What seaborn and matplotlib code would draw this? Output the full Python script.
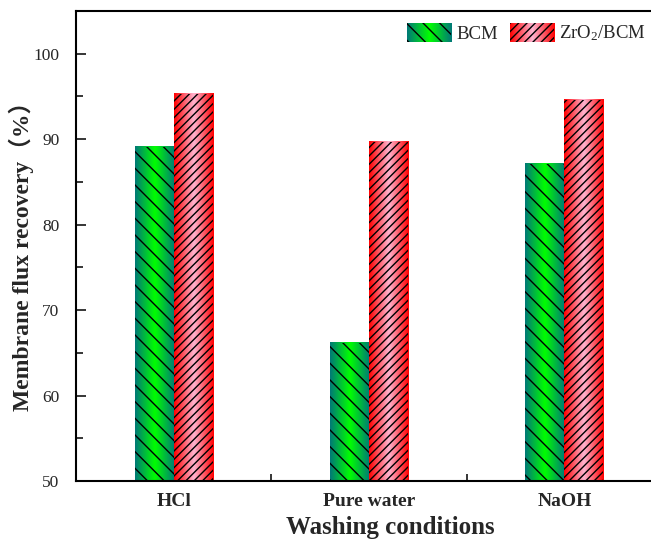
import numpy as np
import pandas as pd
import matplotlib
matplotlib.use("Agg")
import matplotlib.pyplot as plt
import seaborn as sns
from matplotlib.colors import LinearSegmentedColormap
from matplotlib.legend_handler import HandlerBase
from matplotlib.image import BboxImage
from matplotlib.transforms import Bbox, TransformedBbox
from matplotlib.patches import Rectangle

conditions = ["HCl", "Pure water", "NaOH"]
series = ["BCM", "ZrO$_2$/BCM"]
bcm_values = [89.1, 66.2, 87.1]
zro2_values = [95.3, 89.7, 94.6]
y_ticks = [50, 60, 70, 80, 90, 100]

df = pd.DataFrame({
    "condition": conditions * 2,
    "series": [series[0]] * 3 + [series[1]] * 3,
    "value": bcm_values + zro2_values,
})

sns.set_theme(style="ticks")
plt.rcParams["font.family"] = ["Liberation Serif", "Noto Sans CJK SC"]
plt.rcParams["mathtext.fontset"] = "custom"
plt.rcParams["mathtext.rm"] = "Liberation Serif"
plt.rcParams["mathtext.it"] = "Liberation Serif:italic"
plt.rcParams["mathtext.bf"] = "Liberation Serif:bold"
plt.rcParams["hatch.linewidth"] = 1.0
plt.rcParams["hatch.color"] = "black"

BCM_HATCH = "\\\\"
ZR_HATCH = "////"

fig = plt.figure(figsize=(6.51, 5.44), dpi=100)
ax = fig.add_axes([76 / 651, 63 / 544, 586 / 651, 470 / 544])

sns.barplot(data=df, x="condition", y="value", hue="series", order=conditions,
            hue_order=series, width=0.4, ax=ax, legend=False,
            palette=["#00c040", "#ff80a0"])

green_cmap = LinearSegmentedColormap.from_list("g", ["#007878", "#00ff00", "#007878"])
red_cmap = LinearSegmentedColormap.from_list("r", ["#ff0000", "#ffb4d0", "#ff0000"])
grad = np.linspace(0, 1, 256).reshape(1, -1)

patches = [p for p in ax.patches if p.get_height() > 0]
for p in patches:
    x0, w = p.get_x(), p.get_width()
    h = p.get_height()
    y0 = p.get_y()
    center = x0 + w / 2
    is_bcm = center < round(center)
    cmap = green_cmap if is_bcm else red_cmap
    ax.imshow(grad, cmap=cmap, extent=[x0, x0 + w, y0, y0 + h], aspect="auto",
              interpolation="bicubic", zorder=1.5)
    p.set_facecolor("none")
    p.set_edgecolor("black")
    p.set_linewidth(0)
    p.set_hatch(BCM_HATCH if is_bcm else ZR_HATCH)
    p.set_zorder(2)

ax.set_xlim(-0.5, 2.5)
ax.set_ylim(50, 105)
ax.set_yticks(y_ticks)
ax.set_yticks([55, 65, 75, 85, 95], minor=True)
ax.set_xticks([0.5, 1.5], minor=True)
ax.tick_params(axis="both", which="major", direction="in", length=7, width=1.3)
ax.tick_params(axis="both", which="minor", direction="in", length=5, width=1.3)
ax.tick_params(axis="x", which="major", labelsize=14, pad=9)
ax.tick_params(axis="y", which="major", labelsize=12.5, pad=12)
for lab in ax.get_xticklabels():
    lab.set_fontweight("bold")
for s in ax.spines.values():
    s.set_linewidth(1.5)
    s.set_color("black")
ax.spines["right"].set_visible(False)

ax.set_xlabel("Washing conditions", fontsize=18, fontweight="bold")
ax.set_ylabel("Membrane flux recovery（%）", fontsize=17, fontweight="bold")
ax.xaxis.set_label_coords(0.536, -0.075)
ax.yaxis.set_label_coords(-0.072, 0.49)


class GradHandler(HandlerBase):
    def __init__(self, cmap, hatch):
        super().__init__()
        self.cmap = cmap
        self.hatch = hatch

    def create_artists(self, legend, orig_handle, xdescent, ydescent, width,
                       height, fontsize, trans):
        bb = TransformedBbox(Bbox.from_bounds(-xdescent, -ydescent, width, height), trans)
        img = BboxImage(bb, cmap=self.cmap, interpolation="bicubic")
        img.set_data(grad)
        rect = Rectangle((-xdescent, -ydescent), width, height, facecolor="none",
                         edgecolor="black", linewidth=0, hatch=self.hatch,
                         transform=trans)
        return [img, rect]


h1 = Rectangle((0, 0), 1, 1)
h2 = Rectangle((0, 0), 1, 1)
fig.legend([h1, h2], series, ncol=2, frameon=False, fontsize=13.5,
           loc="center left", bbox_to_anchor=(407 / 651, 1 - 33 / 544),
           borderpad=0, borderaxespad=0,
           handlelength=2.35, handleheight=1.17, handletextpad=0.3, columnspacing=0.6,
           handler_map={h1: GradHandler(green_cmap, BCM_HATCH), h2: GradHandler(red_cmap, ZR_HATCH)})

fig.savefig("out.png", dpi=100)
